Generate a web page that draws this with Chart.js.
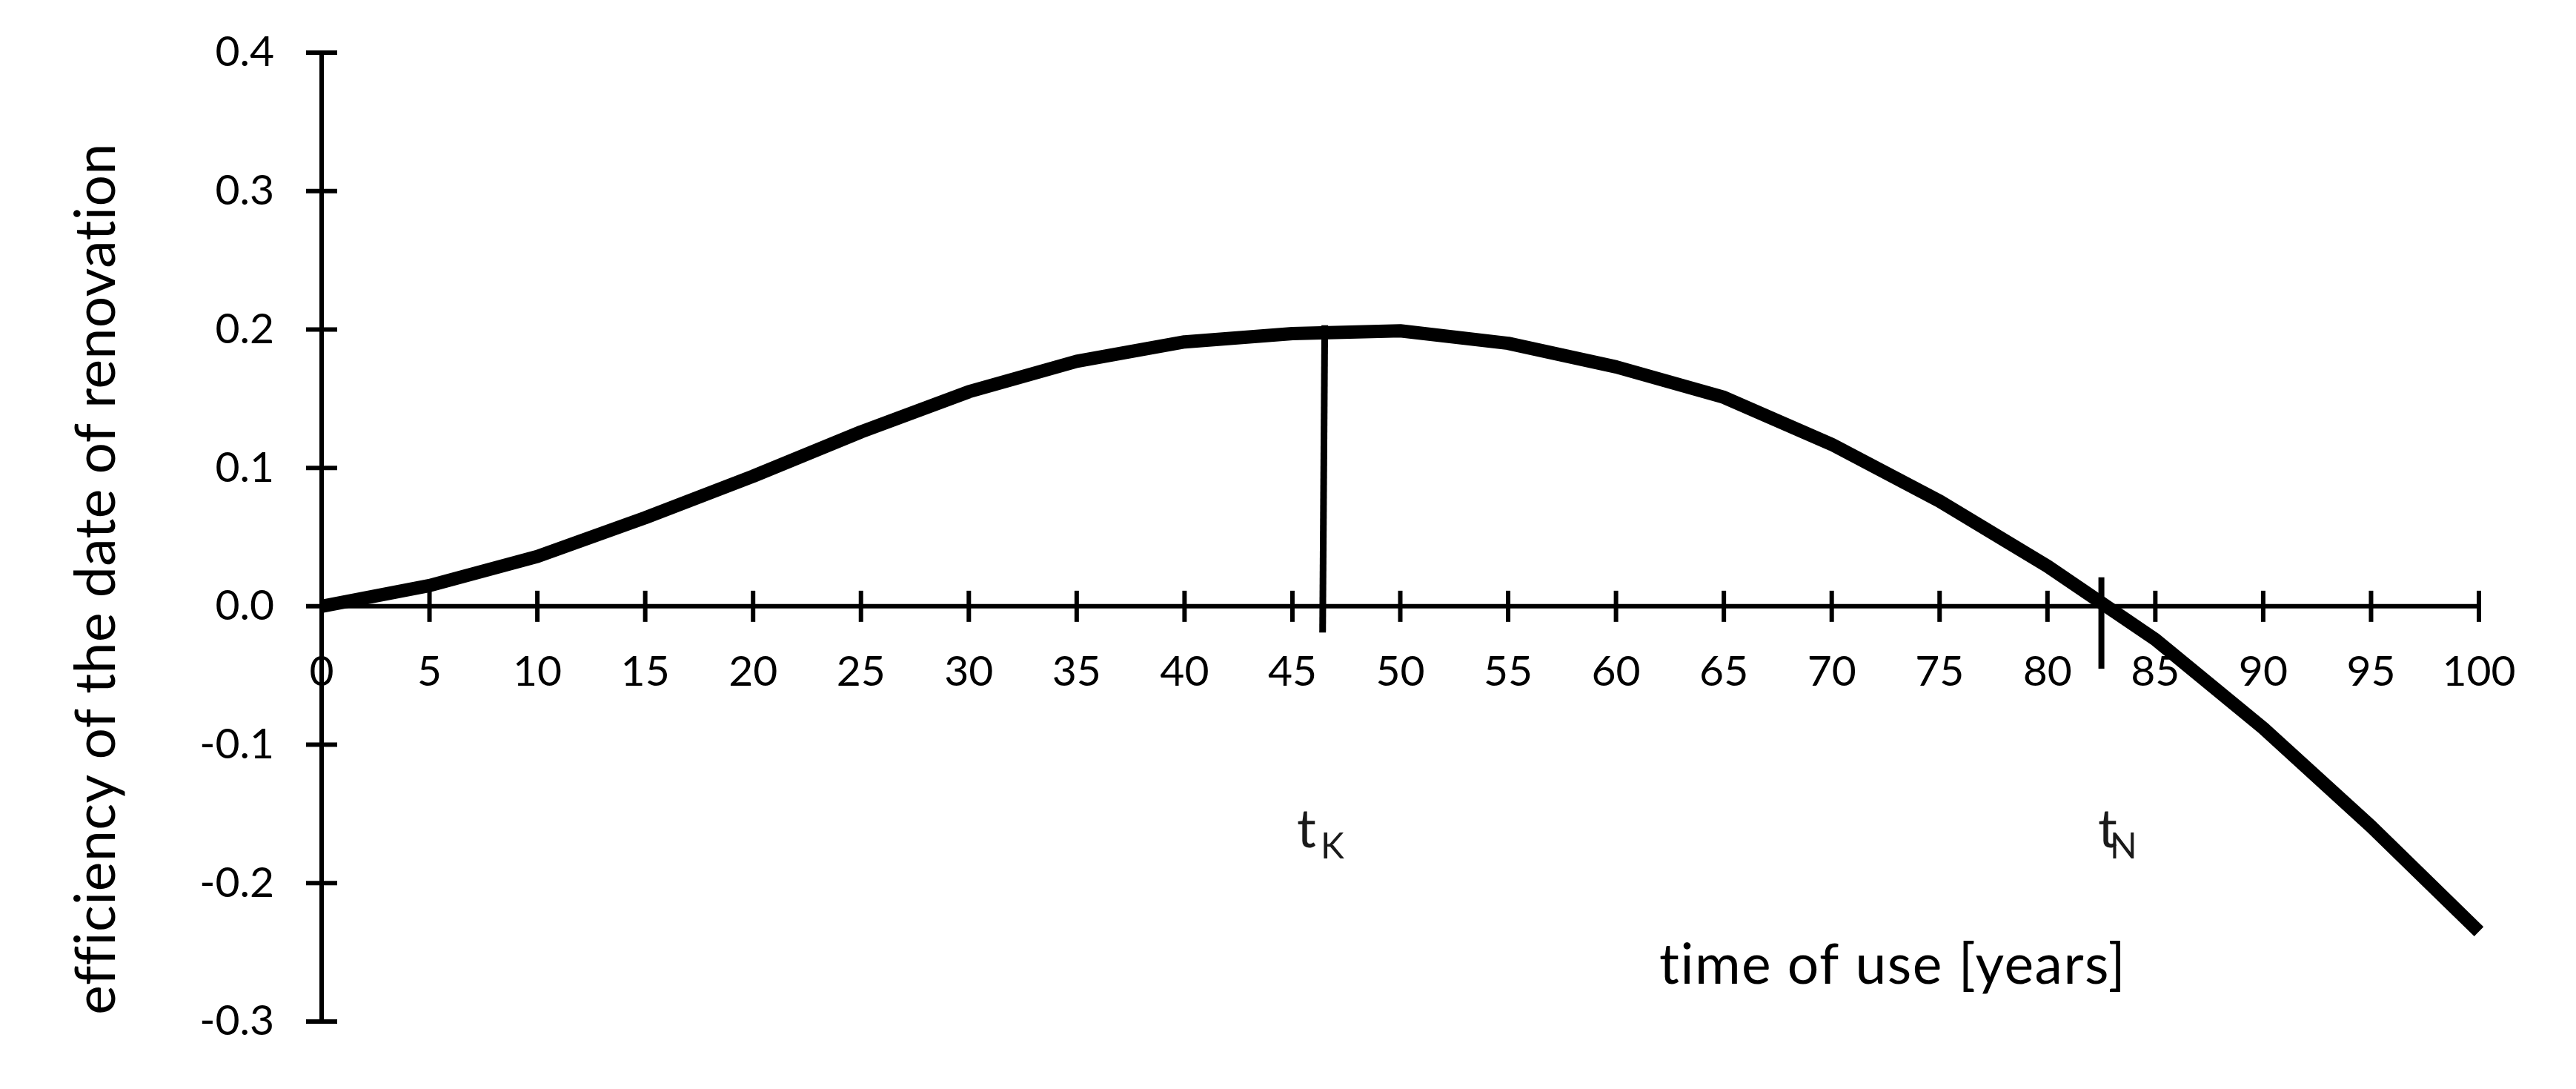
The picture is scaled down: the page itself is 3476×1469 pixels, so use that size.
<!DOCTYPE html>
<html>
<head>
<meta charset="utf-8">
<script src="https://cdn.jsdelivr.net/npm/chart.js@4"></script>
<style>
  html, body { margin: 0; padding: 0; background: #ffffff; }
  #wrap { width: 3476px; height: 1469px; }
</style>
</head>
<body>
<div id="wrap"><canvas id="renovationChart" width="3476" height="1469"></canvas></div>
<script>
// time of use (years) and efficiency
const years = [0, 5, 10, 15, 20, 25, 30, 35, 40, 45, 50, 55, 60, 65, 70, 75, 80, 85, 90, 95, 100];
const efficiency = [0, 0.015, 0.036, 0.064, 0.094, 0.126, 0.155, 0.177, 0.191, 0.197, 0.199, 0.19, 0.173, 0.151, 0.117, 0.076, 0.029, -0.024, -0.088, -0.159, -0.235];

// marker lines for t_K and t_N
const tkX = [46.5, 46.4];
const tkY = [0.203, -0.019];
const tnX = [82.5, 82.5];
const tnY = [0.021, -0.045];

const xTicks = [0, 5, 10, 15, 20, 25, 30, 35, 40, 45, 50, 55, 60, 65, 70, 75, 80, 85, 90, 95, 100];
const yTicks = [0.4, 0.3, 0.2, 0.1, 0.0, -0.1, -0.2, -0.3];

const xTitle = "time of use [years]";
const yTitle = "efficiency of the date of renovation";

const FONT = "Lato, 'Open Sans', sans-serif";

function toPoints(xs, ys) {
  return xs.map((x, i) => ({ x: x, y: ys[i] }));
}

// Axes crossing at zero, with ticks through the line (Excel style)
const crossAxes = {
  id: "crossAxes",
  beforeDatasetsDraw(chart) {
    const ctx = chart.ctx;
    const xs = chart.scales.x;
    const ys = chart.scales.y;
    const x0 = xs.getPixelForValue(0);
    const y0 = ys.getPixelForValue(0);

    ctx.save();
    ctx.strokeStyle = "#000";
    ctx.lineWidth = 6;
    ctx.lineCap = "butt";

    // y axis
    ctx.beginPath();
    ctx.moveTo(x0, ys.getPixelForValue(0.4));
    ctx.lineTo(x0, ys.getPixelForValue(-0.3));
    ctx.stroke();

    // x axis
    ctx.beginPath();
    ctx.moveTo(xs.getPixelForValue(0), y0);
    ctx.lineTo(xs.getPixelForValue(100), y0);
    ctx.stroke();

    // y ticks
    yTicks.forEach((v) => {
      const py = ys.getPixelForValue(v);
      ctx.beginPath();
      ctx.moveTo(x0 - 21, py);
      ctx.lineTo(x0 + 21, py);
      ctx.stroke();
    });

    // x ticks
    xTicks.forEach((v) => {
      const px = xs.getPixelForValue(v);
      ctx.beginPath();
      ctx.moveTo(px, y0 - 21);
      ctx.lineTo(px, y0 + 21);
      ctx.stroke();
    });

    ctx.fillStyle = "#000";
    ctx.font = "57px " + FONT;

    ctx.textAlign = "right";
    ctx.textBaseline = "middle";
    yTicks.forEach((v) => {
      ctx.fillText(v.toFixed(1), x0 - 64, ys.getPixelForValue(v));
    });

    ctx.textAlign = "center";
    ctx.textBaseline = "alphabetic";
    xTicks.forEach((v) => {
      ctx.fillText(String(v), xs.getPixelForValue(v), y0 + 107);
    });

    // axis titles (letter spacing also keeps Lato from joining "ti"/"ffi")
    ctx.font = "75px " + FONT;
    ctx.letterSpacing = "1.5px";
    ctx.textAlign = "left";
    ctx.fillText(xTitle, 2239, 1327);

    ctx.letterSpacing = "0.5px";
    ctx.save();
    ctx.translate(155, 781);
    ctx.rotate(-Math.PI / 2);
    ctx.textAlign = "center";
    ctx.fillText(yTitle, 0, 0);
    ctx.restore();
    ctx.letterSpacing = "0px";

    // t_K and t_N labels
    ctx.fillStyle = "#1a1a1a";
    ctx.textAlign = "left";
    ctx.font = "72px " + FONT;
    ctx.fillText("t", 1750, 1143);
    ctx.fillText("t", 2831, 1143);
    ctx.font = "48px " + FONT;
    ctx.fillText("K", 1782, 1158);
    ctx.fillText("N", 2847, 1158);

    ctx.restore();
  },
};

new Chart(document.getElementById("renovationChart"), {
  type: "scatter",
  data: {
    datasets: [
      {
        label: "efficiency",
        data: toPoints(years, efficiency),
        showLine: true,
        borderColor: "#000",
        borderWidth: 18,
        pointRadius: 0,
        tension: 0,
        borderCapStyle: "butt",
        borderJoinStyle: "round",
        clip: { left: 0, right: 6, top: 40, bottom: 40 },
      },
      {
        label: "tK",
        data: toPoints(tkX, tkY),
        showLine: true,
        borderColor: "#000",
        borderWidth: 9,
        pointRadius: 0,
        borderCapStyle: "butt",
        clip: false,
      },
      {
        label: "tN",
        data: toPoints(tnX, tnY),
        showLine: true,
        borderColor: "#000",
        borderWidth: 8,
        pointRadius: 0,
        borderCapStyle: "butt",
        clip: false,
      },
    ],
  },
  options: {
    responsive: false,
    animation: false,
    devicePixelRatio: 1,
    layout: {
      padding: { left: 434, right: 131, top: 71, bottom: 91 },
    },
    plugins: {
      legend: { display: false },
      tooltip: { enabled: false },
    },
    scales: {
      x: { type: "linear", min: 0, max: 100, display: false },
      y: { type: "linear", min: -0.3, max: 0.4, display: false },
    },
  },
  plugins: [crossAxes],
});
</script>
</body>
</html>
